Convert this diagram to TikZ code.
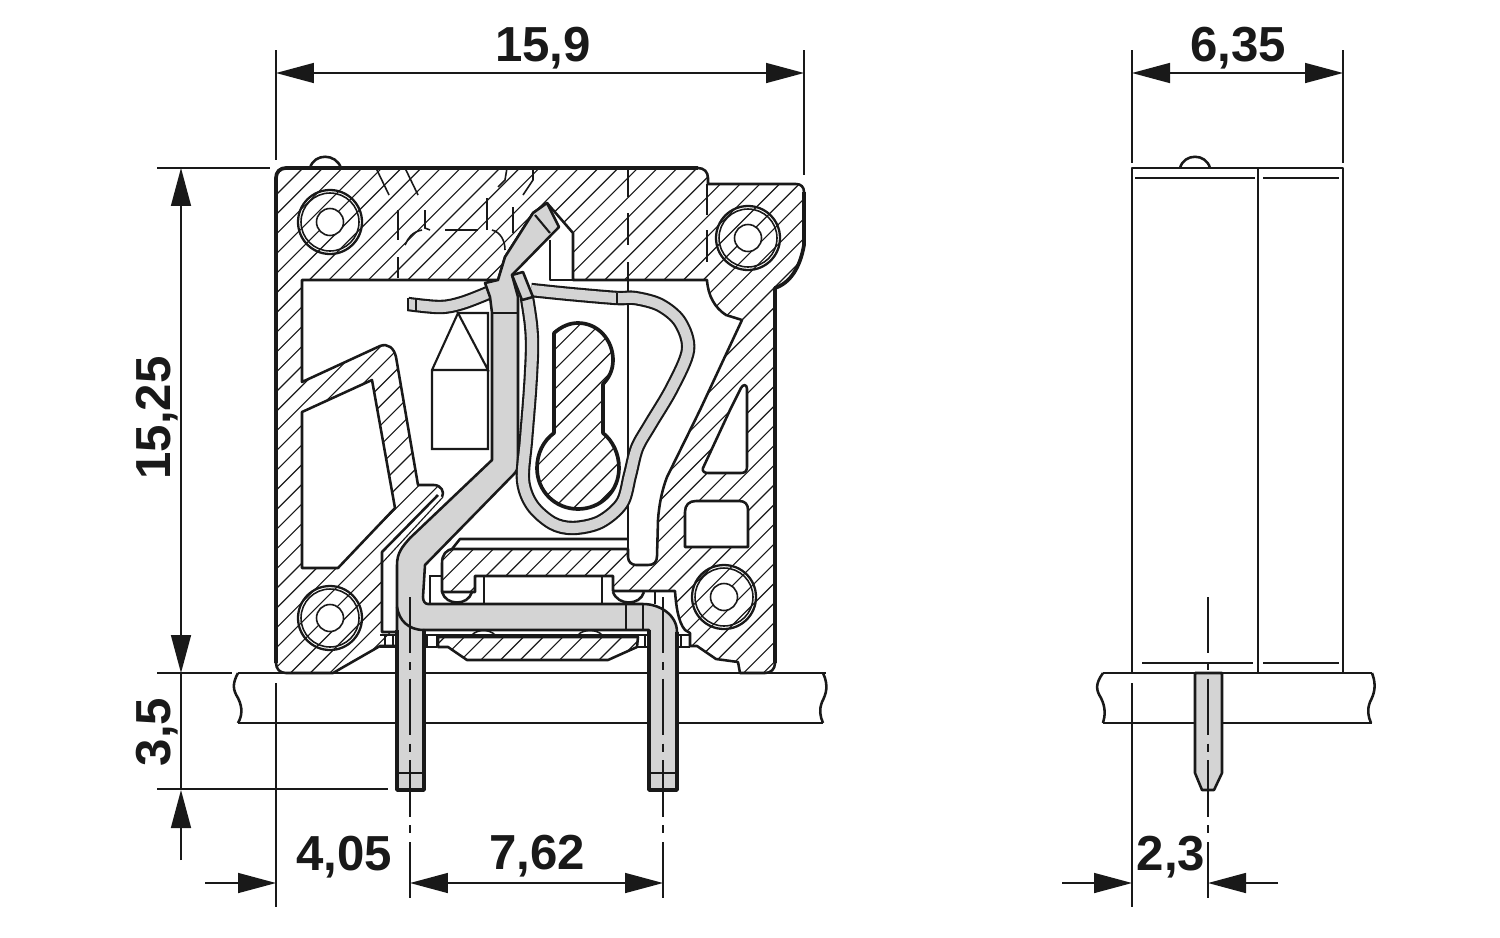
\documentclass[tikz,border=0pt]{standalone}
\usepackage{fontspec}
\setmainfont{Liberation Sans}
\usetikzlibrary{arrows.meta}
\definecolor{metal}{gray}{0.83}
\definecolor{ink}{gray}{0.1}
\tikzset{
  outline/.style={draw=ink,line width=1.45pt,line join=round},
  heavy/.style={draw=ink,line width=2.1pt,line join=round},
  fine/.style={draw=ink,line width=0.9pt},
  hatchline/.style={draw=ink,line width=0.65pt},
  hidden/.style={draw=ink,line width=0.9pt},
  extline/.style={draw=ink,line width=0.9pt},
  dimline/.style={draw=ink,line width=0.9pt,{Triangle[length=0.76cm,width=0.4cm]}-{Triangle[length=0.76cm,width=0.4cm]}},
  dimend/.style={draw=ink,line width=0.9pt,-{Triangle[length=0.76cm,width=0.4cm]}},
  centerline/.style={draw=ink,line width=0.9pt,dash pattern=on 32pt off 5pt on 4.5pt off 5pt},
  dimtext/.style={font=\fontsize{28}{28}\selectfont\bfseries,text=ink,inner sep=0pt},
  stripblack/.style={draw=ink,line width=8.2pt,line join=round},
  stripgray/.style={draw=metal,line width=5.8pt,line join=round},
  bolt/.style={draw=ink,line width=1.3pt},
}
\newcommand*{\hatchin}[1]{%
  \begin{scope}\clip #1;
  \foreach \k in {451.3,471,...,1500}{\draw[hatchline] (\k,0)--(\k-900,900);}
  \end{scope}}
\newcommand*{\bodypath}{(276,178) .. controls (276,172) and (280,168) .. (286,168) -- (698,168) .. controls (704,168) and (708,172) .. (708,178) -- (708,184) -- (796,184) .. controls (801,184) and (804,187) .. (804,192) -- (804,245) .. controls (800,268) and (790,283) .. (775,288) -- (775,663) .. controls (775,669) and (771,673) .. (765,673) -- (740,673) -- (738,662) -- (716,659) -- (697,646) -- (690,646) -- (690,633) -- (685,630) .. controls (678,622) and (676,605) .. (675,591) -- (613,591) -- (613,576) -- (475,576) -- (475,592) -- (442,592) -- (442,563) .. controls (442,555) and (446,549) .. (454,549) -- (628,549) -- (628,557) .. controls (628,562) and (632,565) .. (636,565) -- (648,565) .. controls (654,565) and (657,562) .. (657,556) -- (658,520) .. controls (659,505) and (662,490) .. (667,477) -- (700,410) -- (742,320) -- (726,315) .. controls (715,308) and (708,296) .. (707,280) -- (573,280) -- (573,233) -- (547,203) -- (533,213) -- (505,257) -- (498,280) -- (302,280) -- (302,382) -- (380,346) .. controls (388,343) and (394,348) .. (396,357) -- (418,485) -- (434,485) .. controls (441,485) and (445,492) .. (442,497) -- (382,562) -- (382,632) -- (397,632) -- (397,646) -- (380,646) -- (333,673) -- (286,673) .. controls (280,673) and (276,669) .. (276,663) -- cycle}
\newcommand*{\leftwin}{(302,412) -- (372,380) -- (395,508) -- (338,568) -- (302,568) -- cycle}
\newcommand*{\triwin}{(703,468) -- (730,410) -- (741,388) .. controls (743,384) and (747,384) .. (747,389) -- (747,467) .. controls (747,471) and (745,473) .. (741,473) -- (708,473) .. controls (704,473) and (702,471) .. (703,468) -- cycle}
\newcommand*{\rectwin}{(685,547) -- (685,512) .. controls (685,505) and (689,501) .. (696,501) -- (739,501) .. controls (745,501) and (748,504) .. (748,510) -- (748,547) -- cycle}
\newcommand*{\keypath}{(554,333) .. controls (562,326) and (570,323) .. (578,323) .. controls (598,323) and (613,340) .. (613,360) .. controls (613,370) and (609,378) .. (603,384) -- (603,433) .. controls (613,441) and (619,454) .. (619,468) .. controls (619,491) and (601,509) .. (578,509) .. controls (555,509) and (537,491) .. (537,468) .. controls (537,454) and (543,441) .. (554,433) -- cycle}
\newcommand*{\lowerbar}{(438,637) -- (438,647) -- (448,647) -- (467,660) -- (608,660) -- (637,647) -- (638,637) -- cycle}
\newcommand*{\conductor}{(492,313) -- (490,297) -- (485,283) -- (498,280) -- (505,257) -- (533,213) -- (547,203) -- (559,227) -- (512,275) -- (518,297) -- (518,468) -- (515,473) -- (425,565) -- (423,597) .. controls (423,601) and (425,604) .. (428,604) -- (643,604) .. controls (660,604) and (677,615) .. (677,632) -- (677,790) -- (649,790) -- (649,630) -- (424,630) -- (424,790) -- (397,790) -- (397,565) .. controls (397,553) and (402,547) .. (410,538) -- (492,460) -- cycle}
\begin{document}
\begin{tikzpicture}[x=0.02cm,y=-0.02cm]
\useasboundingbox (0,0) rectangle (1500,937);
% named points
\coordinate (tl) at (276,73); \coordinate (tr) at (804,73);
\coordinate (rl) at (1132,73); \coordinate (rr) at (1343,73);
\coordinate (vt) at (181,168); \coordinate (vb) at (181,673);
\coordinate (lowtip) at (181,790); \coordinate (lowend) at (181,860);
\coordinate (b0) at (276,883); \coordinate (b1) at (410,883); \coordinate (b2) at (663,883);
\coordinate (b0out) at (205,883);
\coordinate (c0) at (1132,883); \coordinate (c1) at (1208,883);
\coordinate (c0out) at (1062,883); \coordinate (c1out) at (1278,883);
% plate left
\draw[outline] (238,673) .. controls (232,684) and (233,690) .. (238,698) .. controls (243,708) and (242,716) .. (238,723);
\draw[outline] (823,673) .. controls (829,686) and (826,694) .. (822,702) .. controls (819,710) and (820,716) .. (823,723);
\draw[outline] (238,673) -- (826,673);
\draw[outline] (238,723) -- (823,723);
% extension lines
\draw[extline] (276,50) -- (276,160);
\draw[extline] (804,50) -- (804,175);
\draw[extline] (1132,50) -- (1132,163);
\draw[extline] (1343,50) -- (1343,163);
\draw[extline] (157,168) -- (270,168);
\draw[extline] (157,673) -- (232,673);
\draw[extline] (157,789) -- (388,789);
\draw[extline] (276,683) -- (276,907);
\draw[extline] (1132,683) -- (1132,907);
% bump on top
\draw[outline] (310,168) .. controls (314,153) and (336,153) .. (341,168);
% body
\fill[white] \bodypath;
\hatchin{\bodypath}
\fill[white] \leftwin; \fill[white] \triwin; \fill[white] \rectwin;
\draw[outline] \bodypath;
\draw[outline] \leftwin; \draw[outline] \triwin; \draw[outline] \rectwin;
\draw[heavy] (276,663) -- (276,178) .. controls (276,172) and (280,168) .. (286,168) -- (698,168);
\draw[heavy] (804,192) -- (804,245) .. controls (800,268) and (790,283) .. (775,288) -- (775,663);
% lip strip
\fill[white] (382,552) -- (438,495) -- (442,497) -- (382,562) -- cycle;
\draw[outline] (382,562) -- (382,552) -- (438,495);
% hidden lines in the body
\draw[hidden] (376,168) -- (389,195);
\draw[hidden] (405,168) -- (418,195);
\draw[hidden] (398,210) -- (398,240);
\draw[hidden] (398,257) -- (398,278);
\draw[hidden] (425,210) -- (425,228) -- (430,230);
\draw[hidden] (405,245) .. controls (408,238) and (412,232) .. (422,230);
\draw[hidden] (445,230) -- (478,230);
\draw[hidden] (487,198) -- (487,230);
\draw[hidden] (492,230) .. controls (500,232) and (505,240) .. (505,250);
\draw[hidden] (513,207) -- (513,233);
\draw[hidden] (507,168) -- (505,180) -- (498,187);
\draw[hidden] (533,168) -- (533,180) -- (523,195);
\draw[hidden] (628,168) -- (628,197);
\draw[hidden] (628,213) -- (628,245);
\draw[hidden] (628,262) -- (628,280);
\draw[hidden] (707,184) -- (707,215);
\draw[hidden] (707,230) -- (707,262);
% pocket
\draw[outline] (550,240) -- (550,280) -- (573,280);
% bolts
\foreach \n/\cx/\cy in {a/330/222,b/748/238,c/330/618,d/724/597}{
  \draw[bolt] (\cx,\cy) circle[radius=0.64cm];
  \draw[fine] (\cx,\cy) circle[radius=0.58cm];
  \fill[white] (\cx,\cy) circle[radius=0.27cm];
  \draw[fine] (\cx,\cy) circle[radius=0.27cm];
}
% house
\draw[fine,line width=1.2pt] (458,313) -- (432,370) -- (432,449) -- (488,449) -- (488,313) -- (458,313) -- (488,370) -- (432,370);
% vertical finger line
\draw[outline] (628,280) -- (628,557);
% key
\fill[white] \keypath;
\hatchin{\keypath}
\draw[heavy] \keypath;
% strip above bar
\draw[outline] (452,549) -- (460,539) -- (628,539);
% window frames under bar
\draw[fine,line width=1.2pt] (430,603) -- (430,576) -- (442,576);
\draw[fine,line width=1.2pt] (484,603) -- (484,576);
\draw[fine,line width=1.2pt] (602,603) -- (602,576);
\draw[outline] (442,592) .. controls (446,606) and (468,606) .. (472,592);
\draw[outline] (613,592) .. controls (618,606) and (640,606) .. (644,592);
\draw[fine,line width=1.2pt] (655,592) -- (655,604);
% lower bar
\fill[white] \lowerbar;
\hatchin{\lowerbar}
\draw[outline] \lowerbar;
\draw[outline] (425,635) -- (648,635);
\draw[fine] (472,635) .. controls (477,629) and (490,629) .. (495,635);
\draw[fine] (578,635) .. controls (583,629) and (597,629) .. (602,635);
% small feet
\draw[fine,line width=1.1pt] (380,635) -- (397,635) (380,647) -- (397,647) (385,635) -- (385,647) (393,635) -- (393,647);
\draw[fine,line width=1.1pt] (424,635) -- (437,635) (424,647) -- (437,647) (427,635) -- (427,647) (437,635) -- (437,647);
\draw[fine,line width=1.1pt] (637,635) -- (649,635) (637,647) -- (649,647) (645,635) -- (645,647);
\draw[fine,line width=1.1pt] (677,635) -- (690,635) (677,647) -- (690,647) (681,635) -- (681,647) (690,633) -- (690,647);
% left small leaf
\draw[stripblack,line cap=butt] plot[smooth,tension=0.6] coordinates {(408,304) (440,307) (462,303) (488,293)};
\draw[stripgray,line cap=butt] plot[smooth,tension=0.6] coordinates {(408,304) (440,307) (462,303) (488,293)};
\draw[outline] (408,298) -- (408,310);
\draw[fine] (416,298) -- (416,311);
% conductor
\fill[metal] \conductor;
\draw[outline] \conductor;
\draw[outline] (492,313) -- (518,313);
\draw[outline] (397,607) .. controls (399,620) and (408,630) .. (424,630);
\draw[fine,line width=1.2pt] (535,215) -- (550,233);
\draw[outline] (626,604) -- (626,630);
\draw[outline] (643,604) -- (643,630);
\draw[fine,line width=1.2pt] (397,773) -- (424,773);
\draw[fine,line width=1.2pt] (649,773) -- (677,773);
\draw[heavy] (397,630) -- (397,790) -- (424,790) -- (424,630);
\draw[heavy] (649,630) -- (649,790) -- (677,790) -- (677,632);
% main spring
\newcommand*{\springcoords}{(527,298) (531,325) (532,350) (530,390) (526,440) (523,480) (532,505) (552,523) (573,528) (600,522) (622,503) (630,475) (637,448) (650,425) (672,388) (688,350) (680,322) (660,305) (635,298) (617,298) (570,294) (531,290)}
\draw[stripblack,line cap=butt] plot[smooth,tension=0.55] coordinates {\springcoords};
\draw[stripgray,line cap=butt] plot[smooth,tension=0.55] coordinates {\springcoords};
\fill[metal] (512,275) -- (523,272) -- (533,297) -- (522,300) -- cycle;
\draw[outline] (512,275) -- (523,272) -- (533,297) -- (522,300) -- cycle;
\draw[outline] (617,293) -- (617,304);
% centre lines
\draw[centerline] (410,597) -- (410,907);
\draw[centerline] (663,597) -- (663,907);
% side view
\draw[outline] (1180,168) .. controls (1184,153) and (1206,153) .. (1210,168);
\fill[white] (1132,168) rectangle (1343,673);
\draw[outline] (1132,673) -- (1132,168) -- (1343,168) -- (1343,673);
\draw[outline] (1258,168) -- (1258,673);
\draw[fine] (1135,178) -- (1255,178);
\draw[fine] (1263,178) -- (1339,178);
\draw[fine] (1142,663) -- (1253,663);
\draw[fine] (1263,663) -- (1339,663);
\draw[outline] (1103,673) .. controls (1095,684) and (1096,690) .. (1101,698) .. controls (1106,708) and (1105,716) .. (1103,723);
\draw[outline] (1372,673) .. controls (1377,686) and (1374,694) .. (1370,702) .. controls (1367,710) and (1368,716) .. (1371,723);
\draw[outline] (1103,673) -- (1372,673);
\draw[outline] (1103,723) -- (1372,723);
\fill[metal] (1195,673) -- (1222,673) -- (1222,773) -- (1214,790) -- (1202,790) -- (1195,773) -- cycle;
\draw[outline] (1195,673) -- (1222,673) -- (1222,773) -- (1214,790) -- (1202,790) -- (1195,773) -- cycle;
\draw[centerline] (1208,597) -- (1208,907);
% dimensions
\draw[dimline] (tl) -- (tr);
\draw[dimline] (rl) -- (rr);
\draw[dimline] (vt) -- (vb);
\draw[extline] (vb) -- (lowtip);
\draw[dimend] (lowend) -- (lowtip);
\draw[dimend] (b0out) -- (b0);
\draw[dimline] (b1) -- (b2);
\draw[dimend] (c0out) -- (c0);
\draw[dimend] (c1out) -- (c1);
\node[dimtext] (t159) at (543,48) {15,9};
\node[dimtext] (t635) at (1238,48) {6,35};
\node[dimtext,rotate=90] (t1525) at (157,418) {15,25};
\node[dimtext,rotate=90] (t35) at (157,732) {3,5};
\node[dimtext] (t405) at (344,857) {4,05};
\node[dimtext] (t762) at (537,856) {7,62};
\node[dimtext] (t23) at (1171,857) {2,3};
\end{tikzpicture}
\end{document}
